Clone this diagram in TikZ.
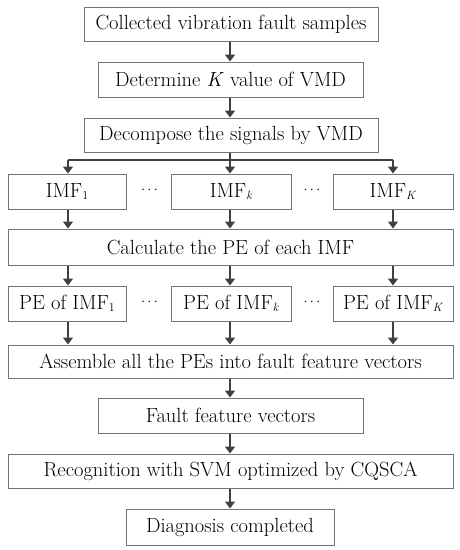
\documentclass[tikz,border=0pt]{standalone}
\usetikzlibrary{arrows.meta}
\newcommand{\sbs}[1]{\raisebox{-0.25ex}{\fontsize{12}{12}\selectfont #1}}
\begin{document}
\begin{tikzpicture}[x=1pt,y=-1pt,
  box/.style={draw=black!55,line width=1pt,fill=white,inner sep=0pt,align=center,font=\fontsize{20.5}{24}\selectfont},
  arr/.style={draw=black!75,line width=2pt,-{Triangle[width=10pt,length=7pt]}},
  ln/.style={draw=black!75,line width=2pt},
  dotsnode/.style={inner sep=0pt,font=\fontsize{14}{16}\selectfont}]
\useasboundingbox (0,0) rectangle (460,550);
\node[box,minimum width=294pt,minimum height=34pt] (b1) at (231,24) {Collected vibration fault samples};
\node[box,minimum width=265pt,minimum height=35pt] (b2) at (230.5,79.5) {Determine \textit{K} value of VMD};
\node[box,minimum width=294pt,minimum height=34pt] (b3) at (231,135) {Decompose the signals by VMD};
\node[box,minimum width=118pt,minimum height=35pt] (imf1) at (67,191.5) {IMF\sbs{1}};
\node[box,minimum width=120pt,minimum height=35pt] (imfk) at (231,191.5) {IMF\sbs{\textit{k}}};
\node[box,minimum width=120pt,minimum height=35pt] (imfK) at (393,191.5) {IMF\sbs{\textit{K}}};
\node[dotsnode] (d1) at (149.5,190) {$\cdots$};
\node[dotsnode] (d2) at (312,190) {$\cdots$};
\node[box,minimum width=445pt,minimum height=36pt] (calc) at (230.5,247) {Calculate the PE of each IMF};
\node[box,minimum width=118pt,minimum height=35pt] (pe1) at (67,303.5) {PE of IMF\sbs{1}};
\node[box,minimum width=120pt,minimum height=35pt] (pek) at (231,303.5) {PE of IMF\sbs{\textit{k}}};
\node[box,minimum width=120pt,minimum height=35pt] (peK) at (393,303.5) {PE of IMF\sbs{\textit{K}}};
\node[dotsnode] (d3) at (149.5,302) {$\cdots$};
\node[dotsnode] (d4) at (312,302) {$\cdots$};
\node[box,minimum width=445pt,minimum height=33pt] (asm) at (230.5,361.5) {Assemble all the PEs into fault feature vectors};
\node[box,minimum width=265pt,minimum height=35pt] (ffv) at (230.5,415.5) {Fault feature vectors};
\node[box,minimum width=445pt,minimum height=34pt] (rec) at (230.5,471) {Recognition with SVM optimized by CQSCA};
\node[box,minimum width=208pt,minimum height=36pt] (diag) at (230,527) {Diagnosis completed};
\coordinate (cx) at (230,0);
\coordinate (lx) at (68,0);
\coordinate (rx) at (393,0);
\coordinate (jL) at (68,160);
\coordinate (jR) at (393,160);
\draw[arr] (b1.south -| cx) -- (b2.north -| cx);
\draw[arr] (b2.south -| cx) -- (b3.north -| cx);
\draw[ln] (jL) -- (jR);
\draw[arr] (jL) -- (imf1.north -| lx);
\draw[arr] (b3.south -| cx) -- (imfk.north -| cx);
\draw[arr] (jR) -- (imfK.north -| rx);
\draw[arr] (imf1.south -| lx) -- (calc.north -| lx);
\draw[arr] (imfk.south -| cx) -- (calc.north -| cx);
\draw[arr] (imfK.south -| rx) -- (calc.north -| rx);
\draw[arr] (calc.south -| lx) -- (pe1.north -| lx);
\draw[arr] (calc.south -| cx) -- (pek.north -| cx);
\draw[arr] (calc.south -| rx) -- (peK.north -| rx);
\draw[arr] (pe1.south -| lx) -- (asm.north -| lx);
\draw[arr] (pek.south -| cx) -- (asm.north -| cx);
\draw[arr] (peK.south -| rx) -- (asm.north -| rx);
\draw[arr] (asm.south -| cx) -- (ffv.north -| cx);
\draw[arr] (ffv.south -| cx) -- (rec.north -| cx);
\draw[arr] (rec.south -| cx) -- (diag.north -| cx);
\end{tikzpicture}
\end{document}
